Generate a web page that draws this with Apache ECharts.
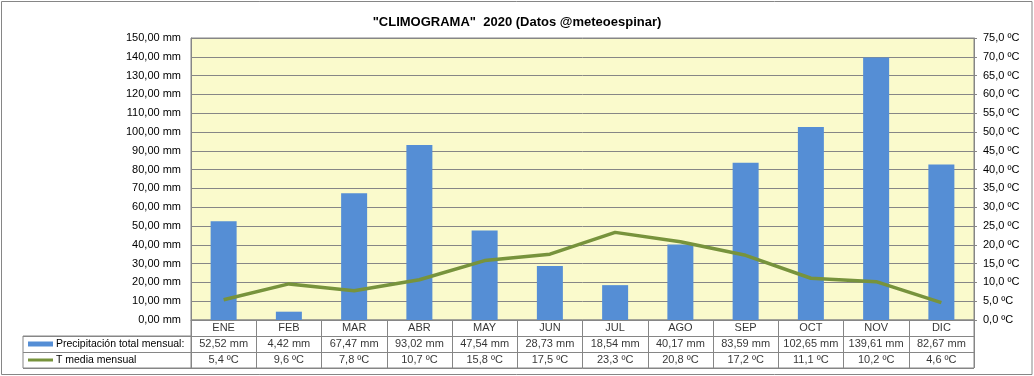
<!DOCTYPE html>
<html>
<head>
<meta charset="utf-8">
<script src="https://cdn.jsdelivr.net/npm/echarts@6/dist/echarts.min.js"></script>
<style>
html,body{margin:0;padding:0;background:#fff;}
#chart{width:1034px;height:376px;}
</style>
</head>
<body>
<div id="chart"></div>
<script>
// ---- data ----
var months = ['ENE','FEB','MAR','ABR','MAY','JUN','JUL','AGO','SEP','OCT','NOV','DIC'];
var precipitation = [52.52, 4.42, 67.47, 93.02, 47.54, 28.73, 18.54, 40.17, 83.59, 102.65, 139.61, 82.67];
var temperature = [5.4, 9.6, 7.8, 10.7, 15.8, 17.5, 23.3, 20.8, 17.2, 11.1, 10.2, 4.6];
var seriesNames = ['Precipitación total mensual:', 'T media mensual'];
var titleText = '"CLIMOGRAMA"  2020 (Datos @meteoespinar)';

// ---- helpers ----
function fmtMM(v){ return v.toFixed(2).replace('.', ',') + ' mm'; }
function fmtC(v){ return v.toFixed(1).replace('.', ',') + ' ºC'; }

var FONT = 'Arial, "Liberation Sans", sans-serif';
var BAR = '#558ED5', LINE = '#77933C', GRID = '#868686';

var rows = ['mes', 'prec', 'temp'];
var tableData = [];
months.forEach(function(m, i){
  tableData.push({value: [m, 'mes'], txt: m});
  tableData.push({value: [m, 'prec'], txt: fmtMM(precipitation[i])});
  tableData.push({value: [m, 'temp'], txt: fmtC(temperature[i])});
});

var chart = echarts.init(document.getElementById('chart'), null, {renderer: 'canvas'});
chart.setOption({
  animation: false,
  backgroundColor: '#fff',
  textStyle: {fontFamily: FONT},
  title: {
    text: titleText, left: 'center', top: 11,
    textStyle: {fontFamily: FONT, fontSize: 13, fontWeight: 'bold', color: '#000'}
  },
  graphic: [{
    type: 'rect', silent: true, z: -1,
    shape: {x: 1.5, y: 1.5, width: 1030.5, height: 373},
    style: {fill: 'none', stroke: GRID, lineWidth: 1}
  }],
  grid: [
    {left: 191, right: 60, top: 38, bottom: 56, show: true, backgroundColor: '#FAFACC', borderColor: GRID, borderWidth: 1},
    {left: 191, right: 60, top: 320, height: 48, show: true, backgroundColor: '#fff', borderColor: GRID, borderWidth: 1},
    {left: 23, width: 168, top: 336, height: 32, show: true, backgroundColor: '#fff', borderColor: GRID, borderWidth: 1}
  ],
  xAxis: [
    {type: 'category', gridIndex: 0, data: months, axisLine: {show: true, lineStyle: {color: GRID}}, axisTick: {show: false}, axisLabel: {show: false}},
    {type: 'category', gridIndex: 1, data: months, axisLine: {show: false}, axisTick: {show: false}, axisLabel: {show: false},
      splitLine: {show: true, interval: 0, lineStyle: {color: GRID, width: 1}}},
    {type: 'value', gridIndex: 2, show: false, min: 0, max: 1}
  ],
  yAxis: [
    {type: 'value', gridIndex: 0, min: 0, max: 150, interval: 10,
      axisLine: {show: true, lineStyle: {color: GRID}}, axisTick: {show: false},
      axisLabel: {formatter: function(v){ return fmtMM(v); }, color: '#000', fontSize: 11, margin: 10, fontFamily: FONT},
      splitLine: {show: true, lineStyle: {color: GRID, width: 1}}},
    {type: 'value', gridIndex: 0, position: 'right', min: 0, max: 75, interval: 5,
      axisLine: {show: true, lineStyle: {color: GRID}}, axisTick: {show: true, length: 3, lineStyle: {color: GRID}},
      axisLabel: {formatter: function(v){ return fmtC(v); }, color: '#000', fontSize: 11, margin: 9, fontFamily: FONT},
      splitLine: {show: false}},
    {type: 'category', gridIndex: 1, data: rows, inverse: true, axisLine: {show: false}, axisTick: {show: false}, axisLabel: {show: false},
      splitLine: {show: true, interval: 0, lineStyle: {color: GRID, width: 1}}},
    {type: 'category', gridIndex: 2, data: seriesNames, inverse: true, axisLine: {show: false}, axisTick: {show: false},
      splitLine: {show: true, interval: 0, lineStyle: {color: GRID, width: 1}},
      axisLabel: {inside: true, margin: 5, color: '#000', fontSize: 10.5, fontFamily: FONT,
        formatter: function(v){ return (v === seriesNames[0] ? '{p|}' : '{t|}') + ' ' + v; },
        rich: {
          p: {width: 25, height: 5, backgroundColor: BAR},
          t: {width: 25, height: 3, backgroundColor: LINE}
        }}}
  ],
  series: [
    {name: seriesNames[0], type: 'bar', xAxisIndex: 0, yAxisIndex: 0, data: precipitation, barWidth: 26,
      itemStyle: {color: BAR}},
    {name: seriesNames[1], type: 'line', xAxisIndex: 0, yAxisIndex: 1, data: temperature, symbol: 'none',
      lineStyle: {color: LINE, width: 3.5}, itemStyle: {color: LINE}, z: 5},
    {type: 'scatter', xAxisIndex: 1, yAxisIndex: 2, symbolSize: 1, itemStyle: {color: 'rgba(0,0,0,0)'},
      data: tableData,
      label: {show: true, position: 'inside', color: '#000', fontSize: 11, fontFamily: FONT,
        formatter: function(p){ return p.data.txt; }}}
  ]
});
</script>
</body>
</html>
